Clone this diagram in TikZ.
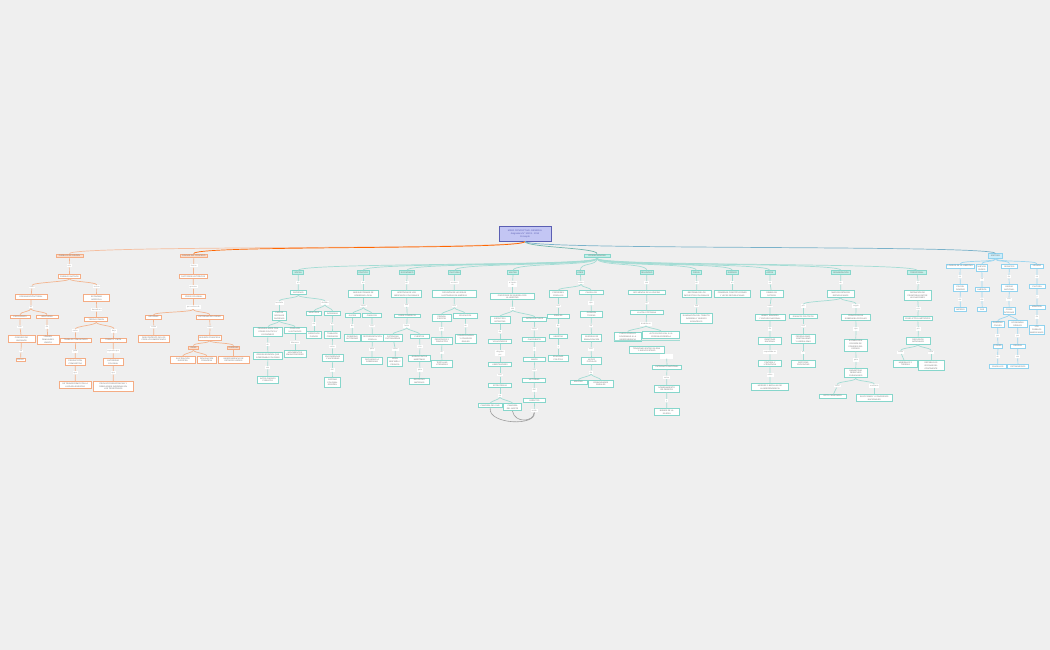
\documentclass[tikz,border=0pt]{standalone}
\usepackage{fontspec}
\setmainfont{Liberation Sans}
\definecolor{bgc}{HTML}{EFEFEF}
\definecolor{tealc}{HTML}{86D6CB}
\definecolor{tealf}{HTML}{C2EFE8}
\definecolor{tealln}{HTML}{A3DCD4}
\definecolor{orc}{HTML}{F4AC84}
\definecolor{orf}{HTML}{FBDDCB}
\definecolor{orln}{HTML}{F3B48E}
\definecolor{blc}{HTML}{90D2EE}
\definecolor{blf}{HTML}{CDEDFA}
\definecolor{blln}{HTML}{9CD6EF}
\definecolor{txt}{HTML}{707070}
\definecolor{rootf}{HTML}{C3C6F4}
\definecolor{rootd}{HTML}{5B5FB3}
\tikzset{brn/.style={out=-90,in=90,distance=#1}, brn/.default=3pt}
\begin{document}
\begin{tikzpicture}[x=1pt,y=-1pt,
  every node/.style={font=\fontsize{2}{2.7}\selectfont, align=center, text=txt, inner xsep=1pt, inner ysep=1.2pt},
  mw/.style={minimum width=#1pt},
  con/.style={draw=tealc, fill=white, line width=0.9pt},
  hdr/.style={con, fill=tealf},
  ocon/.style={draw=orc, fill=white, line width=0.9pt},
  ohdr/.style={ocon, fill=orf},
  bcon/.style={draw=blc, fill=white, line width=0.9pt},
  bhdr/.style={bcon, fill=blf},
  lnk/.style={fill=white, text=txt!70, inner ysep=0.9pt},
  rootbox/.style={fill=rootf, draw=rootd, line width=0.9pt, text=rootd, font=\fontsize{2.3}{3}\selectfont},
  tln/.style={draw=tealln, line width=0.7pt},
  oln/.style={draw=orln, line width=0.7pt},
  bln/.style={draw=blln, line width=0.7pt},
  xln/.style={draw=gray!75, line width=0.6pt}]

\fill[bgc] (0,0) rectangle (1050,650);
\useasboundingbox (0,0) rectangle (1050,650);

% ---------- root ----------
\node[rootbox, minimum width=52pt, minimum height=15pt] (root) at (525,233.5) {MAPA CONCEPTUAL GENERAL\\Asignatura N° 10201 - 2014\\Concepto};
\node[ohdr,mw=27] (o1h) at (69.5,256) {PUEBLOS DE ORIGEN};
\node[ohdr,mw=27] (o2h) at (193.7,256) {CAUSAS DEL PROCESO};
\node[hdr,mw=26] (hub) at (597,256) {CONSECUENCIAS};
\node[bhdr,mw=14] (bh) at (995.5,256) {SÍNTESIS};

\draw[oln, draw=orc!80] (root.south) to[brn=9pt] (o1h.north);
\draw[oln, draw=orange!80!red] (root.south) to[brn=9pt] (o2h.north);
\draw[tln, draw=tealc!85!black] (root.south) to[brn=6pt] (hub.north);
\draw[bln, draw=blc!85!black] (root.south) to[brn=9pt] (bh.north);

% ---------- Pueblos de origen ----------
\node[lnk] (o1k1) at (69.3,265.7) {son};
\node[ocon,mw=22] (o1a) at (69.5,276.5) {PUEBLOS NATIVOS};
\node[lnk] (o1k2) at (32,287) {como};
\node[ocon,mw=32] (o1b) at (31,297) {ORGANIZACIÓN TRIBAL};
\node[lnk] (o1k3) at (31,307) {en};
\node[ocon,mw=20] (o1c) at (20,317) {CACICAZGOS};
\node[ocon,mw=22] (o1d) at (47,317) {JEFATURAS};
\node[lnk] (o1k4) at (20,327) {con};
\node[lnk] (o1k5) at (47,327) {de};
\node[ocon,mw=27] (o1e) at (21.5,339) {CONSEJO DE\\ANCIANOS};
\node[ocon,mw=22] (o1f) at (48,340) {LINAJES\\FAMILIARES\\UNIDOS};
\node[lnk] (o1k6) at (21,351) {en};
\node[ocon,mw=9] (o1g) at (20.5,360) {AYLLU};
\node[lnk] (o1k7) at (96.7,286.7) {tenían};
\node[ocon,mw=26] (o1i) at (96.5,298) {ECONOMÍA\\AGRÍCOLA};
\node[lnk] (o1k8) at (96.7,309.7) {basada en};
\node[ocon,mw=23] (o1j) at (96.3,319.7) {TIERRA COMÚN};
\node[lnk] (o1k9) at (75.3,330.7) {como};
\node[lnk] (o1k10) at (114,330.7) {bajo};
\node[ocon,mw=31] (o1m) at (75.8,340.3) {TRABAJO COMUNITARIO};
\node[ocon,mw=26] (o1n) at (113.3,340.3) {TRIBUTO Y MITA};
\node[lnk] (o1k11) at (75.3,351.3) {para};
\node[lnk] (o1k12) at (113.3,351.3) {impuesto por};
\node[ocon,mw=20] (o1o) at (75.3,362.2) {PRODUCCIÓN\\COMPARTIDA};
\node[ocon,mw=20] (o1p) at (113.3,362.2) {AUTORIDAD\\COLONIAL};
\node[lnk] (o1k13) at (75.3,372.7) {que};
\node[lnk] (o1k14) at (113.3,372.7) {que};
\node[ocon,mw=32] (o1q) at (75.2,384.8) {SE TRANSFORMÓ CON LA\\LLEGADA EUROPEA};
\node[ocon,mw=40] (o1r) at (113.3,386.2) {PROVOCÓ RESISTENCIAS Y\\REBELIONES INDÍGENAS EN\\LOS TERRITORIOS};

\draw[oln] (o1h) -- (o1k1) -- (o1a);
\draw[oln] (o1a.south) to[brn] (o1k2.north);
\draw[oln] (o1a.south) to[brn] (o1k7.north);
\draw[oln] (o1k2) -- (o1b) -- (o1k3);
\draw[oln] (o1k3.south) to[brn] (o1c.north);
\draw[oln] (o1k3.south) to[brn] (o1d.north);
\draw[oln] (o1c) -- (o1k4) -- (o1e) -- (o1k6) -- (o1g);
\draw[oln] (o1d) -- (o1k5) -- (o1f);
\draw[oln] (o1k7) -- (o1i) -- (o1k8) -- (o1j);
\draw[oln] (o1j.south) to[brn] (o1k9.north);
\draw[oln] (o1j.south) to[brn] (o1k10.north);
\draw[oln] (o1k9) -- (o1m) -- (o1k11) -- (o1o) -- (o1k13) -- (o1q);
\draw[oln] (o1k10) -- (o1n) -- (o1k12) -- (o1p) -- (o1k14) -- (o1r);

% ---------- Causas del proceso ----------
\node[lnk] (o2k1) at (193.7,265.7) {fueron};
\node[ocon,mw=28] (o2a) at (193.3,276.5) {FACTORES HISTÓRICOS};
\node[lnk] (o2k2) at (193.3,286.7) {generan};
\node[ocon,mw=24] (o2b) at (193.7,296.8) {CRISIS COLONIAL};
\node[lnk] (o2k3) at (193.3,307.3) {por causas de};
\node[ocon,mw=16.4] (o2c) at (153.5,317.2) {INTERNAS};
\node[ocon,mw=27.3] (o2d) at (209.7,317.2) {EXTERNAS DEL REINO};
\node[lnk] (o2k4) at (153.7,327) {como};
\node[lnk] (o2k5) at (210,327) {como};
\node[ocon,mw=31] (o2e) at (153.8,338.8) {DESCONTENTO DE LOS\\CRIOLLOS AMERICANOS};
\node[ocon,mw=22] (o2f) at (209.7,338) {INVASIÓN FRANCESA};
\node[ohdr,mw=10.4] (o2g) at (193.5,348) {IDEAS};
\node[ohdr,mw=11] (o2i) at (233.5,348) {GUERRAS};
\node[ocon,mw=25.7] (o2j) at (182.8,359.7) {ILUSTRACIÓN\\EUROPEA};
\node[ocon,mw=19.7] (o2m) at (206.8,359.7) {REVOLUCIÓN\\FRANCESA};
\node[ocon,mw=31] (o2n) at (233.5,359.7) {INDEPENDENCIA DE\\ESTADOS UNIDOS};

\draw[oln] (o2h) -- (o2k1) -- (o2a) -- (o2k2) -- (o2b) -- (o2k3);
\draw[oln] (o2k3.south) to[brn] (o2c.north);
\draw[oln] (o2k3.south) to[brn] (o2d.north);
\draw[oln] (o2c) -- (o2k4) -- (o2e);
\draw[oln] (o2d) -- (o2k5) -- (o2f);
\draw[oln] (o2f.south) to[brn] (o2g.north);
\draw[oln] (o2f.south) to[brn] (o2i.north);
\draw[oln] (o2g.south) to[brn=2pt] (o2j.north);
\draw[oln] (o2g.south) to[brn=2pt] (o2m.north);
\draw[oln] (o2i) -- (o2n);

% ---------- consecuencias ----------
\node[hdr,mw=11] (t1h) at (298.2,272.7) {SOCIAL};
\node[hdr,mw=12] (t2h) at (363.3,272.7) {POLÍTICO};
\node[hdr,mw=11] (t3h) at (407.2,272.7) {ECONÓMICO};
\node[hdr,mw=10.7] (t4h) at (454.7,272.7) {CULTURAL};
\node[hdr,mw=10.6] (t5h) at (513,272.7) {MILITAR};
\node[hdr,mw=8.7] (t6h) at (580.3,272.7) {LÍDER};
\node[hdr,mw=11] (t7h) at (646.8,272.7) {RELIGIOSO};
\node[hdr,mw=10.4] (t8h) at (696.5,272.7) {FISCAL};
\node[hdr,mw=10.7] (t9h) at (732.3,272.7) {JURÍDICO};
\node[hdr,mw=10] (t10h) at (770,272.7) {ARTES};
\node[hdr,mw=19] (t11h) at (840.8,272.7) {ORGANIZACIÓN};
\node[hdr,mw=19] (t12h) at (917,272.7) {TERRITORIAL};
\foreach \c in {t1h,t2h,t3h,t4h,t5h,t6h,t7h,t8h,t9h,t10h,t11h,t12h}
  \draw[tln] (hub.south) to[brn=8pt] (\c.north);

% ---------- Social ----------
\node[lnk] (t1k1) at (298.3,282.7) {en};
\node[con,mw=16] (t1a) at (298.3,292.8) {SOCIEDAD};
\node[lnk] (t1k2) at (279.3,303) {formada};
\node[lnk] (t1k3) at (325,303) {dividida};
\node[con,mw=14.7] (t1b) at (279.3,316) {CASTAS\\SOCIALES\\DIVERSAS};
\node[con,mw=29.4] (t1c) at (268,331.7) {PENINSULARES CON\\PODER POLÍTICO Y\\ECONÓMICO};
\node[con,mw=22] (t1d) at (295,330.5) {CRIOLLOS\\ILUSTRADOS};
\node[lnk] (t1k4) at (267.7,344.3) {de};
\node[con,mw=29.4] (t1e) at (268,355.8) {ORIGEN ESPAÑOL QUE\\GOBERNABA COLONIAS};
\node[lnk] (t1k5) at (267.7,367.7) {con};
\node[con,mw=21] (t1f) at (267.8,379.7) {ALTOS CARGOS\\PÚBLICOS};
\node[lnk] (t1k6) at (295,342.3) {lideraron};
\node[con,mw=22] (t1g) at (295,353.8) {MOVIMIENTOS\\EMANCIPADORES};
\node[con,mw=15.4] (t1i) at (314,313.3) {MESTIZOS};
\node[con,mw=16.4] (t1j) at (332.5,313.3) {INDÍGENAS};
\node[lnk] (t1k7) at (314,324) {sin};
\node[con,mw=15.4] (t1m) at (314,335) {DERECHOS\\PLENOS};
\node[lnk] (t1k8) at (332.3,324) {en};
\node[con,mw=16.4] (t1n) at (332.5,335) {TRABAJOS\\FORZADOS};
\node[lnk] (t1k9) at (332.3,346.7) {como};
\node[con,mw=21] (t1o) at (332.8,357.8) {ENCOMIENDAS\\Y HACIENDAS};
\node[lnk] (t1k10) at (332.3,370) {del};
\node[con,mw=16.4] (t1p) at (332.5,382.5) {SISTEMA\\COLONIAL\\ESPAÑOL};

\draw[tln] (t1h) -- (t1k1) -- (t1a);
\draw[tln] (t1a.south) to[brn] (t1k2.north);
\draw[tln] (t1a.south) to[brn] (t1k3.north);
\draw[tln] (t1k2) -- (t1b);
\draw[tln] (t1b.south) to[brn=2pt] (t1c.north);
\draw[tln] (t1b.south) to[brn=2pt] (t1d.north);
\draw[tln] (t1c) -- (t1k4) -- (t1e) -- (t1k5) -- (t1f);
\draw[tln] (t1d) -- (t1k6) -- (t1g);
\draw[tln] (t1k3.south) to[brn=2pt] (t1i.north);
\draw[tln] (t1k3.south) to[brn=2pt] (t1j.north);
\draw[tln] (t1i) -- (t1k7) -- (t1m);
\draw[tln] (t1j) -- (t1k8) -- (t1n) -- (t1k9) -- (t1o) -- (t1k10) -- (t1p);

% ---------- Politico ----------
\node[lnk] (t2k1) at (363.3,282.7) {en};
\node[con,mw=30] (t2a) at (363.3,294.2) {NUEVAS FORMAS DE\\GOBIERNO LOCAL};
\node[lnk] (t2k2) at (363.3,306) {como};
\node[con,mw=15] (t2b) at (352.5,315.8) {JUNTAS};
\node[con,mw=19.4] (t2c) at (372,315.8) {CABILDOS};
\node[lnk] (t2k3) at (352.3,326) {de};
\node[con,mw=16.7] (t2d) at (352.3,337.8) {GOBIERNO\\AUTÓNOMO};
\node[lnk] (t2k4) at (372,326) {con};
\node[con,mw=21.6] (t2e) at (372.5,337.8) {REPRESENTACIÓN\\CRIOLLA};
\node[lnk] (t2k5) at (372,349.3) {para};
\node[con,mw=20.6] (t2f) at (372,360.8) {DECLARAR LA\\SOBERANÍA};

\draw[tln] (t2h) -- (t2k1) -- (t2a) -- (t2k2);
\draw[tln] (t2k2.south) to[brn=2pt] (t2b.north);
\draw[tln] (t2k2.south) to[brn=2pt] (t2c.north);
\draw[tln] (t2b) -- (t2k3) -- (t2d);
\draw[tln] (t2c) -- (t2k4) -- (t2e) -- (t2k5) -- (t2f);

% ---------- Economico ----------
\node[lnk] (t3k1) at (406.7,282.7) {en};
\node[con,mw=30] (t3a) at (406.7,294.2) {APERTURA DE LOS\\MERCADOS COLONIALES};
\node[lnk] (t3k2) at (406.7,305.3) {con};
\node[con,mw=26.7] (t3b) at (407.3,316) {LIBRE COMERCIO};
\node[lnk] (t3k3) at (406.7,326) {hacia};
\node[con,mw=19.7] (t3c) at (393,337.8) {POTENCIAS\\EXTRANJERAS};
\node[con,mw=19] (t3d) at (419.5,336.5) {PUERTOS};
\node[lnk] (t3k4) at (395.3,349.3) {como};
\node[con,mw=15.7] (t3e) at (395,362) {GRAN\\BRETAÑA Y\\FRANCIA};
\node[lnk] (t3k5) at (420,346.7) {con};
\node[con,mw=22.4] (t3f) at (419.5,358.3) {NUEVAS RUTAS\\MARÍTIMAS};
\node[lnk] (t3k6) at (420,370) {para};
\node[con,mw=20] (t3g) at (419.3,381.3) {EXPORTAR\\MATERIAS};

\draw[tln] (t3h) -- (t3k1) -- (t3a) -- (t3k2) -- (t3b) -- (t3k3);
\draw[tln] (t3k3.south) to[brn=2pt] (t3c.north);
\draw[tln] (t3k3.south) to[brn=2pt] (t3d.north);
\draw[tln] (t3c) -- (t3k4) -- (t3e);
\draw[tln] (t3d) -- (t3k5) -- (t3f) -- (t3k6) -- (t3g);

% ---------- Cultural ----------
\node[lnk] (t4k1) at (454.3,282.7) {es decir};
\node[con,mw=44] (t4a) at (454.3,294.2) {DIFUSIÓN DE LAS IDEAS\\ILUSTRADAS EN AMÉRICA};
\node[lnk] (t4k2) at (454.3,306) {con};
\node[con,mw=18.7] (t4b) at (441.7,317.8) {PRENSA\\ESCRITA};
\node[con,mw=24] (t4c) at (465.3,316) {EDUCACIÓN};
\node[lnk] (t4k3) at (441.7,329) {por};
\node[con,mw=20.6] (t4d) at (442,340.7) {PERIÓDICOS Y\\PANFLETOS};
\node[lnk] (t4k4) at (441.7,352.3) {en};
\node[con,mw=20.6] (t4e) at (442,363.7) {TERTULIAS\\LITERARIAS};
\node[lnk] (t4k5) at (465.7,325.7) {de};
\node[con,mw=21.7] (t4f) at (465.8,339) {UNIVERSIDADES\\Y COLEGIOS\\REALES};

\draw[tln] (t4h) -- (t4k1) -- (t4a) -- (t4k2);
\draw[tln] (t4k2.south) to[brn=2pt] (t4b.north);
\draw[tln] (t4k2.south) to[brn=2pt] (t4c.north);
\draw[tln] (t4b) -- (t4k3) -- (t4d) -- (t4k4) -- (t4e);
\draw[tln] (t4c) -- (t4k5) -- (t4f);

% ---------- Militar ----------
\node[lnk] (t5k1) at (512.7,283.7) {a través\\de};
\node[con,mw=44.7] (t5a) at (512.3,296.7) {PROCESOS DE GUERRA POR\\LA LIBERTAD};
\node[lnk] (t5k2) at (512.7,308.7) {con};
\node[con,mw=20] (t5b) at (500,320.3) {EJÉRCITOS\\PATRIOTAS};
\node[con,mw=24] (t5c) at (534.7,319.2) {BATALLAS CLAVE};
\node[lnk] (t5k3) at (500,331.7) {de};
\node[con,mw=23.4] (t5d) at (500,341.8) {VOLUNTARIOS};
\node[lnk] (t5k4) at (500,353.3) {dirigidos\\por};
\node[con,mw=23.4] (t5e) at (500,364.8) {LIBERTADORES};
\node[lnk] (t5k5) at (500,375) {con};
\node[con,mw=23.4] (t5f) at (500,385.8) {ESTRATEGIAS};
\node[lnk] (t5k6) at (500,395.7) {en};
\node[con,mw=23.7] (t5g) at (490.2,405.8) {CAMPAÑA DEL SUR};
\node[con,mw=18.4] (t5i) at (512.5,407.2) {CAMPAÑA\\DEL NORTE};
\node[lnk] (t5k7) at (534.3,329) {como};
\node[con,mw=23] (t5j) at (534.2,339.5) {CHACABUCO};
\node[lnk] (t5k8) at (534.3,349) {y};
\node[con,mw=22.4] (t5m) at (534.5,359.8) {MAIPÚ};
\node[lnk] (t5k9) at (534.3,370) {con};
\node[con,mw=23] (t5n) at (534.2,380.2) {VICTORIAS};
\node[lnk] (t5k10) at (534.3,390) {del};
\node[con,mw=22.4] (t5o) at (534.5,400.8) {EJÉRCITO};
\node[lnk] (t5k11) at (534.3,410.7) {unido};

\draw[tln] (t5h) -- (t5k1) -- (t5a) -- (t5k2);
\draw[tln] (t5k2.south) to[brn=2pt] (t5b.north);
\draw[tln] (t5k2.south) to[brn=2pt] (t5c.north);
\draw[tln] (t5b) -- (t5k3) -- (t5d) -- (t5k4) -- (t5e) -- (t5k5) -- (t5f) -- (t5k6);
\draw[tln] (t5k6.south) to[brn=2pt] (t5g.north);
\draw[tln] (t5k6.south) to[brn=2pt] (t5i.north);
\draw[tln] (t5c) -- (t5k7) -- (t5j) -- (t5k8) -- (t5m) -- (t5k9) -- (t5n) -- (t5k10) -- (t5o) -- (t5k11);
\draw[xln] (t5g.south) .. controls +(-2,16) and +(2,14) .. (t5k11.south);
\draw[xln] (t5i.south) .. controls +(2,12) and +(-1,10) .. (t5k11.south);

% ---------- Lider ----------
\node[lnk] (t6k1) at (581,282.7) {como};
\node[con,mw=18.7] (t6a) at (558.3,294.2) {PRÓCERES\\CRIOLLOS};
\node[con,mw=24] (t6b) at (591.3,292.8) {CAUDILLOS};
\node[lnk] (t6k2) at (558.3,306) {con};
\node[con,mw=22] (t6c) at (558.3,316.2) {IDEALES};
\node[lnk] (t6k3) at (558.3,325.7) {de};
\node[con,mw=18.7] (t6d) at (558.3,336.8) {LIBERTAD};
\node[lnk] (t6k4) at (558.3,346.7) {y};
\node[con,mw=20] (t6e) at (558.3,358.3) {IGUALDAD\\POLÍTICA};
\node[lnk] (t6k5) at (591,303) {que};
\node[con,mw=21.6] (t6f) at (591.5,314.5) {GUIARON\\TROPAS};
\node[lnk] (t6k6) at (591,326) {en};
\node[con,mw=20] (t6g) at (591.7,338) {GUERRAS DE\\EMANCIPACIÓN};
\node[lnk] (t6k7) at (591,349.3) {con};
\node[con,mw=20] (t6i) at (591.7,360.8) {APOYO\\POPULAR};
\node[lnk] (t6k8) at (591,372.3) {de};
\node[con,mw=17] (t6j) at (578.5,382.2) {MILICIAS};
\node[con,mw=25] (t6m) at (600.8,383.7) {COMUNIDADES\\RURALES};

\draw[tln] (t6h) -- (t6k1);
\draw[tln] (t6k1.south) to[brn] (t6a.north);
\draw[tln] (t6k1.south) to[brn] (t6b.north);
\draw[tln] (t6a) -- (t6k2) -- (t6c) -- (t6k3) -- (t6d) -- (t6k4) -- (t6e);
\draw[tln] (t6b) -- (t6k5) -- (t6f) -- (t6k6) -- (t6g) -- (t6k7) -- (t6i) -- (t6k8);
\draw[tln] (t6k8.south) to[brn=2pt] (t6j.north);
\draw[tln] (t6k8.south) to[brn=2pt] (t6m.north);

% ---------- Religioso ----------
\node[lnk] (t7k1) at (646.7,282.7) {con};
\node[con,mw=36.7] (t7a) at (646.7,292.8) {INFLUENCIA DE LA IGLESIA};
\node[lnk] (t7k2) at (646.7,303) {en};
\node[con,mw=33.3] (t7b) at (646.7,312.8) {LA VIDA COTIDIANA};
\node[lnk] (t7k3) at (646,324) {dividida en};
\node[con,mw=27.7] (t7c) at (627.8,336.7) {CLERO CRIOLLO\\FAVORABLE A LA\\INDEPENDENCIA};
\node[con,mw=36.7] (t7d) at (661,335) {ALTO CLERO LEAL A LA\\CORONA ESPAÑOLA};
\node[con,mw=34.7] (t7e) at (646.7,349.7) {TENSIONES ENTRE IGLESIA\\Y NUEVO ESTADO};
\node[lnk, minimum width=13.3pt, minimum height=5pt] (t7k4) at (666.7,356) {};
\node[con,mw=29.4] (t7f) at (667,367.2) {PATRONATO NACIONAL};
\node[lnk] (t7k5) at (666.7,377.3) {sobre};
\node[con,mw=24.7] (t7g) at (666.7,388.7) {NOMBRAMIENTO\\DE OBISPOS};
\node[lnk] (t7k6) at (666.7,400.7) {y};
\node[con,mw=24.7] (t7i) at (666.7,412) {BIENES DE LA\\IGLESIA};

\draw[tln] (t7h) -- (t7k1) -- (t7a) -- (t7k2) -- (t7b) -- (t7k3);
\draw[tln] (t7k3.south) to[brn=2pt] (t7c.north);
\draw[tln] (t7k3.south) to[brn=2pt] (t7d.north);
\draw[tln] ([yshift=1.6pt]t7c.south west) -- ([yshift=1.6pt]t7c.south west -| t7d.east);
\draw[tln] (t7k4) -- (t7f) -- (t7k5) -- (t7g) -- (t7k6) -- (t7i);

% ---------- Fiscal ----------
\node[lnk] (t8k1) at (696.7,282.7) {en};
\node[con,mw=28.7] (t8a) at (696.7,294.2) {REFORMA DE LOS\\IMPUESTOS COLONIALES};
\node[lnk] (t8k2) at (696.7,306) {con};
\node[con,mw=32.7] (t8b) at (696.3,318.7) {ELIMINACIÓN DEL TRIBUTO\\INDÍGENA Y NUEVOS\\ARANCELES};
\draw[tln] (t8h) -- (t8k1) -- (t8a) -- (t8k2) -- (t8b);

% ---------- Juridico ----------
\node[lnk] (t9k1) at (732.3,282.7) {en};
\node[con,mw=36] (t9a) at (732.3,294.2) {PRIMERAS CONSTITUCIONES\\Y LEYES REPUBLICANAS};
\draw[tln] (t9h) -- (t9k1) -- (t9a);

% ---------- Artes ----------
\node[lnk] (t10k1) at (770,282.7) {en};
\node[con,mw=23.3] (t10a) at (771.7,294.2) {SÍMBOLOS\\PATRIOS};
\node[lnk] (t10k2) at (770,306) {como};
\node[con,mw=30] (t10b) at (770,317.5) {HIMNO, BANDERA\\Y ESCUDO NACIONAL};
\node[lnk] (t10k3) at (770,329) {de};
\node[con,mw=23.4] (t10c) at (770,340.8) {IDENTIDAD\\NACIONAL};
\node[lnk] (t10k4) at (770,352.3) {expresada en};
\node[con,mw=23.4] (t10d) at (770,363.7) {PINTURA Y\\LITERATURA};
\node[lnk] (t10k5) at (770,375) {sobre};
\node[con,mw=36.6] (t10e) at (770,387) {HÉROES Y BATALLAS DE\\LA INDEPENDENCIA};
\draw[tln] (t10h) -- (t10k1) -- (t10a) -- (t10k2) -- (t10b) -- (t10k3) -- (t10c) -- (t10k4) -- (t10d) -- (t10k5) -- (t10e);

% ---------- Organizacion ----------
\node[lnk] (t11k1) at (840.7,282.7) {de};
\node[con,mw=26.7] (t11a) at (840.7,294.2) {NUEVOS ESTADOS\\REPUBLICANOS};
\node[lnk] (t11k2) at (803.3,306) {por};
\node[lnk] (t11k3) at (856,306) {según};
\node[con,mw=28.7] (t11b) at (803.3,316.2) {ENSAYOS POLÍTICOS};
\node[lnk] (t11k4) at (803.3,326) {con};
\node[con,mw=24.7] (t11c) at (803.3,339.2) {FEDERALISMO,\\CENTRALISMO\\Y LIBERALISMO};
\node[lnk] (t11k5) at (803.3,352.3) {en};
\node[con,mw=24.7] (t11d) at (803.3,363.7) {DISTINTAS\\PROVINCIAS};
\node[con,mw=28.3] (t11e) at (855.8,317.5) {PRINCIPIOS DE\\SOBERANÍA POPULAR};
\node[lnk] (t11k6) at (856,329) {que};
\node[con,mw=23.3] (t11f) at (855.7,345) {ESTABLECEN\\DIVISIÓN DE\\PODERES DEL\\ESTADO};
\node[lnk] (t11k7) at (856,360) {para};
\node[con,mw=23.3] (t11g) at (855.7,373.3) {GARANTIZAR\\DERECHOS\\CIUDADANOS};
\node[lnk] (t11k8) at (837.3,386) {como};
\node[lnk] (t11k9) at (874.3,386) {mediante};
\node[con,mw=27] (t11i) at (832.5,396.3) {VOTO CENSITARIO};
\node[con,mw=36.7] (t11j) at (874.3,398) {ELECCIONES Y CONGRESOS\\NACIONALES};

\draw[tln] (t11h) -- (t11k1) -- (t11a);
\draw[tln] (t11a.south) to[brn] (t11k2.north);
\draw[tln] (t11a.south) to[brn] (t11k3.north);
\draw[tln] (t11k2) -- (t11b) -- (t11k4) -- (t11c) -- (t11k5) -- (t11d);
\draw[tln] (t11k3) -- (t11e) -- (t11k6) -- (t11f) -- (t11k7) -- (t11g);
\draw[tln] (t11g.south) to[brn] (t11k8.north);
\draw[tln] (t11g.south) to[brn] (t11k9.north);
\draw[tln] (t11k8) -- (t11i);
\draw[tln] (t11k9) -- (t11j);

% ---------- Territorial ----------
\node[lnk] (t12k1) at (918.3,282.7) {en};
\node[con,mw=27] (t12a) at (917.5,295.3) {DEFINICIÓN DE\\FRONTERAS ENTRE\\LAS NACIONES};
\node[lnk] (t12k2) at (918.3,308.7) {con};
\node[con,mw=28.7] (t12b) at (917.7,318.8) {CONFLICTOS LIMÍTROFES};
\node[lnk] (t12k3) at (918.3,329) {por};
\node[con,mw=24] (t12c) at (918,340.8) {RECURSOS\\NATURALES};
\node[lnk] (t12k4) at (900.7,352.3) {como};
\node[lnk] (t12k5) at (931,352.3) {entre};
\node[con,mw=24.4] (t12d) at (905.5,363.7) {MINERALES Y\\TIERRAS};
\node[con,mw=26] (t12e) at (931,365.5) {REPÚBLICAS\\VECINAS DEL\\CONTINENTE};

\draw[tln] (t12h) -- (t12k1) -- (t12a) -- (t12k2) -- (t12b) -- (t12k3) -- (t12c);
\draw[tln] (t12c.south) to[brn] (t12k4.north);
\draw[tln] (t12c.south) to[brn] (t12k5.north);
\draw[tln] (t12k4) -- (t12d);
\draw[tln] (t12k5) -- (t12e);

% ---------- Sintesis ----------
\node[bcon,mw=28.3] (b1) at (960.2,266.3) {LOGROS DE LA LIBERTAD};
\node[bcon,mw=11.7] (b2) at (981.8,268) {NUEVOS\\PAÍSES};
\node[bcon,mw=15.3] (b3) at (1009.3,266.3) {DESAFÍOS};
\node[bcon,mw=13.4] (b4) at (1037,266.3) {LEGADO};
\foreach \c in {b1,b2,b3,b4}
  \draw[bln] (bh.south) to[brn=4pt] (\c.north);

\node[lnk] (b1k1) at (960,276.7) {es};
\node[bcon,mw=14.4] (b1a) at (960.5,288) {FIN DEL\\DOMINIO};
\node[lnk] (b1k2) at (960,299.3) {del};
\node[bcon,mw=12.4] (b1b) at (960.5,309.5) {IMPERIO};
\draw[bln] (b1) -- (b1k1) -- (b1a) -- (b1k2) -- (b1b);

\node[lnk] (b2k1) at (982,279.3) {en};
\node[bcon,mw=14] (b2a) at (982,289.5) {AMÉRICA};
\node[lnk] (b2k2) at (982,299.3) {del};
\node[bcon,mw=9] (b2b) at (982.2,309.5) {SUR};
\draw[bln] (b2) -- (b2k1) -- (b2a) -- (b2k2) -- (b2b);

\node[lnk] (b3k1) at (1009,276.7) {de};
\node[bcon,mw=15.3] (b3a) at (1009.3,288) {UNIDAD\\NACIONAL};
\node[lnk] (b3k2) at (1009,299.3) {con};
\node[bcon,mw=11.7] (b3b) at (1009.2,311.2) {CRISIS\\INTERNAS};
\node[bcon,mw=12.3] (b3c) at (997.8,324.3) {GUERRAS\\CIVILES};
\node[bcon,mw=18.7] (b3d) at (1017.7,324.3) {ECONOMÍAS\\DÉBILES};
\node[lnk] (b3k3) at (997.7,335.7) {por};
\node[bcon,mw=9.4] (b3e) at (998,346.3) {PODER};
\node[lnk] (b3k4) at (997.7,356.7) {de};
\node[bcon,mw=16.7] (b3f) at (997.7,366.7) {CAUDILLOS};
\node[lnk] (b3k5) at (1017.7,335.7) {por};
\node[bcon,mw=15.7] (b3g) at (1017.8,346.3) {DEUDAS};
\node[lnk] (b3k6) at (1017.7,356.7) {con};
\node[bcon,mw=20.6] (b3i) at (1018,366.7) {EXTRANJEROS};
\draw[bln] (b3) -- (b3k1) -- (b3a) -- (b3k2) -- (b3b);
\draw[bln] (b3b.south) to[brn=2pt] (b3c.north);
\draw[bln] (b3b.south) to[brn=2pt] (b3d.north);
\draw[bln] (b3c) -- (b3k3) -- (b3e) -- (b3k4) -- (b3f);
\draw[bln] (b3d) -- (b3k5) -- (b3g) -- (b3k6) -- (b3i);

\node[lnk] (b4k1) at (1037,276.7) {en};
\node[bcon,mw=16] (b4a) at (1037,286.8) {CULTURA};
\node[lnk] (b4k2) at (1037,296.7) {y};
\node[bcon,mw=16] (b4b) at (1037,307.2) {MEMORIA};
\node[lnk] (b4k3) at (1037,317) {de};
\node[bcon,mw=15] (b4c) at (1036.8,329.7) {LOS\\PUEBLOS\\AMERICANOS};
\draw[bln] (b4) -- (b4k1) -- (b4a) -- (b4k2) -- (b4b) -- (b4k3) -- (b4c);

\end{tikzpicture}
\end{document}
